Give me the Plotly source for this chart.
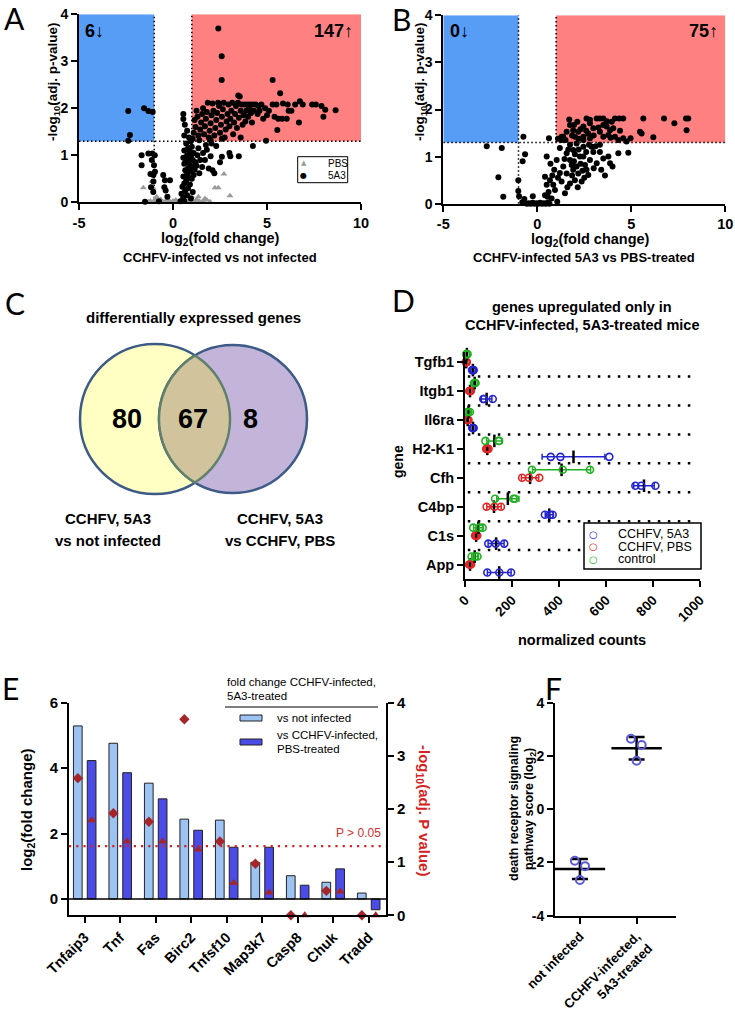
import numpy as np
import plotly.graph_objects as go

# ---------------- DATA ----------------
# Panel A: volcano, CCHFV-infected vs not infected  (log2 FC, -log10 adj p)
a_5a3 = [(-2.38,1.94),(-2.29,1.43),(-2.38,1.31),(-1.54,2.0),(-1.31,1.94),(-1.08,1.92),
 (-1.67,1.0),(-1.67,0.79),(-1.31,1.04),(-1.1,1.04),(-0.97,1.0),(-1.13,0.9),(-1.01,0.79),(-0.96,0.65),
 (-1.04,0.58),(-1.04,0.44),(-1.17,0.32),(-0.52,0.58),(-0.43,0.47),(-0.16,0.47),(-0.46,0.32),(-0.39,0.25),
 (-1.49,0.01),(-1.2,0.6),(-1.05,0.22),(-0.3,0.12),(-0.75,0.02),
 (0.55,1.88),(0.55,1.77),(0.63,1.65),(0.75,1.52),(0.6,1.42),(0.85,1.38),(0.95,1.3),(0.7,1.25),(1.0,1.18),
 (0.8,1.15),(0.6,1.1),(0.9,1.08),(1.1,1.05),(0.75,1.0),(0.95,0.98),(0.55,0.95),(0.85,0.92),(1.05,0.9),
 (0.7,0.88),(1.2,0.85),(0.6,0.82),(0.9,0.8),(1.0,0.76),(0.8,0.72),(1.15,0.7),(0.65,0.68),(0.95,0.65),
 (0.75,0.6),(1.1,0.58),(0.55,0.55),(0.85,0.52),(1.0,0.5),(0.7,0.46),(0.6,0.4),(0.9,0.38),(0.5,0.33),
 (0.8,0.3),(0.65,0.25),(1.05,0.22),(0.45,0.18),(0.75,0.15),(0.55,0.1),(0.95,0.08),(0.6,0.03),(0.4,0.02),
 (1.3,1.0),(1.25,0.78),(1.4,0.62),(1.35,1.15),(1.45,0.9),
 (1.6,1.05),(1.7,0.9),(1.8,1.12),(1.9,0.72),(2.0,0.98),(2.1,0.68),(2.2,0.62),(2.5,0.85),(2.6,0.97),
 (3.0,1.05),(3.05,0.98),(3.5,0.98),(2.05,1.25),(1.75,1.22),(2.3,1.2),(1.55,0.75),(4.25,1.2),(4.95,1.31),
 (1.05,1.35),(1.1,1.48),(1.2,1.6),(1.15,1.75),(1.3,1.82),(1.25,1.95),(1.35,1.42),(1.45,1.55),(1.5,1.7),
 (1.55,1.88),(1.6,2.0),(1.65,1.45),(1.7,1.62),(1.75,1.78),(1.8,1.92),(1.85,2.12),(1.9,1.38),(1.95,1.52),
 (2.0,1.68),(2.05,1.85),(2.1,2.1),(2.15,1.95),(2.2,1.42),(2.25,1.58),(2.3,1.75),(2.35,1.9),(2.4,2.12),
 (2.45,2.05),(2.5,1.48),(2.55,1.65),(2.6,1.82),(2.65,1.98),(2.7,2.12),(2.75,1.38),(2.8,1.55),(2.85,1.72),
 (2.9,1.88),(2.95,2.08),(3.0,1.62),(3.05,1.78),(3.1,1.95),(3.15,2.12),(3.2,1.45),(3.25,1.7),(3.3,1.88),
 (3.35,2.05),(3.4,1.58),(3.45,2.12),(3.5,1.8),(3.55,2.25),(3.6,1.95),(3.65,2.08),(3.7,1.65),(3.75,1.85),
 (3.8,2.08),(3.85,1.72),(3.9,1.95),(3.95,2.08),(4.0,1.82),(4.05,2.0),(4.1,2.08),(4.15,1.9),(4.2,1.7),
 (4.25,2.08),(4.3,1.95),(4.4,2.08),(4.5,1.88),(4.55,2.05),(4.6,1.95),(4.7,2.08),(4.8,1.78),(4.9,2.0),
 (5.0,1.85),(2.0,1.32),(2.6,1.35),(3.6,1.38),(1.4,1.32),
 (5.3,2.08),(5.5,2.08),(5.85,2.1),(6.1,2.08),(6.3,1.95),(6.5,2.08),(6.75,2.15),(6.9,2.08),(7.4,2.08),
 (7.6,2.08),(7.9,2.05),(8.1,1.97),(8.0,1.82),(8.65,1.96),(5.6,1.78),(5.8,1.78),(6.05,1.78),(6.7,1.7),
 (5.55,1.54),(5.4,1.82),(5.7,2.32),(5.3,2.6),(6.15,1.95),(5.1,1.95),
 (2.41,3.70),(2.59,3.11),(2.59,2.60),(3.47,2.27)]
a_pbs = [(-1.58,0.31),(-1.13,0.45),(-1.05,0.30),(-0.87,0.12),(0.67,0.19),(0.99,0.13),(1.35,0.12),
 (1.7,0.08),(2.23,0.31),(2.41,0.31),(2.71,0.6),(3.03,0.14),(1.8,0.05),(1.97,0.01),(-1.2,0.03),
 (-1.5,0.0),(-1.3,0.01),(-1.0,0.02),(-0.9,0.0),(-0.8,0.03),(-0.7,0.01),(-0.6,0.02),(-0.5,0.0),
 (-0.4,0.03),(-0.3,0.01),(-0.2,0.02),(-0.1,0.0),(0.0,0.03),(0.1,0.01),(0.2,0.02),(0.3,0.0),(0.4,0.03),
 (0.5,0.01),(0.6,0.02),(0.7,0.0),(0.8,0.03),(0.9,0.01),(1.0,0.02),(1.1,0.0),(1.2,0.03),(1.3,0.01),
 (1.4,0.02),(1.5,0.0),(1.6,0.02),(-0.95,0.07),(-0.65,0.06),(0.45,0.07),(0.15,0.05),(-0.25,0.06),
 (1.25,0.06),(0.85,0.05)]
a_counts = ["6↓", "147↑"]

# Panel B: volcano, CCHFV-infected 5A3 vs PBS-treated
b_5a3 = [(-2.69,1.22),(-1.89,1.18),(-2.07,0.56),(-1.81,0.15),(-0.74,1.42),(-0.65,1.05),(-0.78,0.9),
 (-1.01,0.5),(-1.01,0.27),(-0.97,0.16),(-0.69,0.1),(-0.24,0.16),
 (-0.55,0.0),(-0.45,0.01),(-0.35,0.0),(-0.25,0.02),(-0.15,0.0),(-0.05,0.01),(0.05,0.0),(0.15,0.02),
 (0.25,0.0),(0.35,0.01),(0.45,0.0),(0.55,0.02),(0.65,0.0),(-0.8,0.03),(0.62,1.39),
 (0.5,1.0),(0.41,0.57),(0.5,0.40),(0.41,0.18),(0.76,0.11),(1.06,0.04),(0.94,0.29),(0.67,0.5),(0.9,0.72),
 (1.03,0.93),(1.2,1.18),(1.29,1.35),(0.6,0.25),(0.8,0.6),(0.7,0.85),(1.1,0.55),(0.55,0.15),(0.85,0.4),
 (1.56,0.64),(1.74,0.93),(1.91,1.14),(1.56,1.07),(2.09,0.79),(2.27,1.0),(2.45,1.21),(2.0,0.5),(2.36,0.47),
 (1.74,0.43),(2.62,0.72),(2.8,0.93),(2.98,1.1),(3.16,0.86),(3.33,1.1),(3.51,0.96),(3.87,0.86),(3.78,1.0),
 (4.31,1.07),(4.84,1.08),(4.0,0.79),(1.38,0.79),(1.91,0.72),(2.18,0.64),(1.83,0.82),(2.54,0.82),(2.71,0.61),
 (1.74,1.25),(2.09,1.28),(2.89,1.21),(3.33,1.25),(2.45,1.0),(1.29,0.47),(1.47,0.22),(1.45,0.95),(1.65,1.15),
 (2.0,1.05),(2.2,1.15),(2.6,1.1),(2.3,0.85),(1.95,0.9),(2.5,0.55),(3.0,0.75),(3.6,0.6),(3.4,0.72),
 (2.15,0.35),(1.6,0.35),(1.85,0.6),(2.75,1.25),(3.1,1.22),(2.4,0.7),(1.2,0.65),
 (1.29,1.42),(1.56,1.53),(1.74,1.67),(1.7,1.79),(1.91,1.56),(2.18,1.53),(2.0,1.42),(2.45,1.64),(2.62,1.81),
 (2.8,1.71),(2.98,1.6),(3.16,1.81),(3.33,1.81),(3.51,1.67),(3.69,1.64),(3.87,1.56),(4.04,1.6),(4.13,1.81),
 (4.36,1.81),(4.57,1.81),(3.78,1.46),(4.13,1.42),(4.57,1.39),(4.75,1.32),(4.96,1.39),(5.46,1.53),(5.55,1.49),
 (5.64,1.81),(6.17,1.41),(6.74,1.81),(7.29,1.71),(7.91,1.81),(8.03,1.81),(7.94,1.56),(2.45,1.42),(2.71,1.49),
 (3.33,1.53),(2.8,1.39),(3.51,1.42),(1.38,1.42),(4.31,1.35),(2.45,1.35),(2.8,1.78),(2.13,1.74),(1.95,1.67),
 (3.51,1.81),(3.96,1.74),(3.0,1.45),(3.25,1.62),(2.3,1.58),(1.1,1.38),(1.5,1.35),(3.9,1.4),(4.4,1.55),
 (2.6,1.55),(3.7,1.75),(1.85,1.45),(2.2,1.38)]
b_counts = ["0↓", "75↑"]
fc_cut = 1.0
p_cut = 1.3
vol_xticks = [-5, 0, 5, 10]
vol_yticks = [0, 1, 2, 3, 4]

# Panel C: Venn counts
venn_counts = {"left": 80, "both": 67, "right": 8}

# Panel D: normalized counts, 3 mice per group
d_genes = ["Tgfb1", "Itgb1", "Il6ra", "H2-K1", "Cfh", "C4bp", "C1s", "App"]
d_5a3 = [[30, 34, 37], [78, 80, 118], [31, 34, 37], [365, 406, 614],
         [725, 750, 810], [340, 362, 373], [99, 131, 167], [95, 146, 196]]
d_pbs = [[3, 5, 8], [18, 21, 25], [8, 11, 15], [90, 95, 100],
         [243, 272, 316], [92, 125, 153], [43, 47, 52], [17, 21, 26]]
d_control = [[5, 8, 11], [38, 41, 45], [9, 14, 21], [87, 143, 145],
             [285, 416, 532], [128, 206, 213], [35, 61, 75], [28, 43, 53]]
d_ticks = [0, 200, 400, 600, 800, 1000]

# Panel E
e_genes = ["Tnfaip3", "Tnf", "Fas", "Birc2", "Tnfsf10", "Map3k7", "Casp8", "Chuk", "Tradd"]
e_fc_not_inf = [5.29, 4.76, 3.54, 2.44, 2.41, 1.12, 0.71, 0.51, 0.18]
e_fc_pbs = [4.23, 3.86, 3.06, 2.10, 1.58, 1.58, 0.42, 0.92, -0.33]
e_p_not_inf = [2.58, 1.92, 1.76, 3.69, 1.39, 0.97, 0.0, 0.46, 0.0]
e_p_pbs = [1.79, 1.39, 1.39, 1.24, 0.61, 0.43, 0.0, 0.45, 0.0]
e_p_threshold = 1.3
e_left_ticks = [0, 2, 4, 6]
e_right_ticks = [0, 1, 2, 3, 4]

# Panel F
f_groups = ["not infected", "CCHFV-infected,<br>5A3-treated"]
f_scores = [[-1.94, -2.14, -2.66], [2.64, 2.41, 1.82]]
f_ticks = [-4, -2, 0, 2, 4]

# ---------------- STYLE ----------------
W, H = 735, 1032
def X(p): return p / W
def Y(p): return 1 - p / H

FONT = "Liberation Sans"
LFONT = "Lato"

def tf(size=14, color="black"):
    return dict(family=FONT, size=size, color=color)

def B(v):
    return f"<b>{v}</b>"

def ax(**kw):
    base = dict(showline=True, linecolor="black", linewidth=2, ticks="outside", ticklen=6,
                tickwidth=2, tickcolor="black", showgrid=False, zeroline=False,
                tickfont=tf(14), fixedrange=True, automargin=False)
    base.update(kw)
    return base

anns = []
def txt(text, x, y, size=14, color="black", bold=True, angle=0, xanchor="center",
        yanchor="middle", family=FONT):
    anns.append(dict(text=(B(text) if bold else text), x=X(x), y=Y(y), xref="paper", yref="paper",
                     showarrow=False, textangle=angle, xanchor=xanchor, yanchor=yanchor,
                     font=dict(family=family, size=size, color=color)))

shapes = []
fig = go.Figure()

# ---------------- A & B volcanoes ----------------
BLUE_REG, RED_REG = "#579DF6", "#FF8080"
DOTS = dict(color="black", width=1.5, dash="1.5px,2.5px")
for xa, ya in [("x", "y"), ("x2", "y2")]:
    shapes += [
        dict(type="rect", xref=xa, yref=ya, x0=-5, x1=-fc_cut, y0=p_cut, y1=4,
             fillcolor=BLUE_REG, line=dict(width=0), layer="below"),
        dict(type="rect", xref=xa, yref=ya, x0=fc_cut, x1=10, y0=p_cut, y1=4,
             fillcolor=RED_REG, line=dict(width=0), layer="below"),
        dict(type="line", xref=xa, yref=ya, x0=-fc_cut, x1=-fc_cut, y0=0, y1=4, line=DOTS, layer="below"),
        dict(type="line", xref=xa, yref=ya, x0=fc_cut, x1=fc_cut, y0=p_cut, y1=4, line=DOTS, layer="below"),
        dict(type="line", xref=xa, yref=ya, x0=-5, x1=10, y0=p_cut, y1=p_cut, line=DOTS, layer="below"),
    ]

fig.add_trace(go.Scatter(x=[p[0] for p in a_pbs], y=[p[1] for p in a_pbs], mode="markers",
                         marker=dict(symbol="triangle-up", size=6, color="#9A9A9A"),
                         xaxis="x", yaxis="y", cliponaxis=False, showlegend=False))
fig.add_trace(go.Scatter(x=[p[0] for p in a_5a3], y=[p[1] for p in a_5a3], mode="markers",
                         marker=dict(symbol="circle", size=6, color="black"),
                         xaxis="x", yaxis="y", cliponaxis=False, showlegend=False))
fig.add_trace(go.Scatter(x=[p[0] for p in b_5a3], y=[p[1] for p in b_5a3], mode="markers",
                         marker=dict(symbol="circle", size=6, color="black"),
                         xaxis="x2", yaxis="y2", cliponaxis=False, showlegend=False))

vol_x = dict(range=[-5, 10], tickvals=vol_xticks, ticktext=[B(v) for v in vol_xticks], tickfont=tf(14.5))
vol_y = dict(range=[0, 4], tickvals=vol_yticks, ticktext=[B(v) for v in vol_yticks], tickfont=tf(14))

# A texts
txt("A", 14, 18, size=30, bold=False, family=LFONT)
txt(a_counts[0], 94, 31, size=18)
txt(a_counts[1], 333, 31, size=18)
txt("-log<sub>10</sub>(adj. p-value)", 53, 82, size=13.5, angle=-90)
txt("log<sub>2</sub>(fold change)", 220, 239, size=14.5)
txt("CCHFV-infected vs not infected", 220, 257, size=13)
shapes.append(dict(type="rect", xref="paper", yref="paper", x0=X(297.7), x1=X(347.7),
                   y0=Y(182.7), y1=Y(156.7), line=dict(color="black", width=1),
                   fillcolor="white", layer="above"))
txt("▲", 303.5, 163.5, size=7, color="#9A9A9A", bold=False, family="DejaVu Sans")
txt("●", 303.5, 175.5, size=8, color="black", bold=False, family="DejaVu Sans")
txt("PBS", 326, 163.5, size=10, bold=False, xanchor="left")
txt("5A3", 326, 175.5, size=10, bold=False, xanchor="left")

# B texts
txt("B", 401, 19, size=30, bold=False, family=LFONT)
txt(b_counts[0], 459.5, 31, size=18)
txt(b_counts[1], 703, 31, size=18)
txt("-log<sub>10</sub>(adj. p-value)", 420, 82, size=13.5, angle=-90)
txt("log<sub>2</sub>(fold change)", 590, 240, size=14.5)
txt("CCHFV-infected 5A3 vs PBS-treated", 584, 257, size=13)

# ---------------- C Venn ----------------
L = (155.0, 419.0, 75.0)
R = (233.0, 419.0, 74.0)
VENN_LINE = "#3D5B86"
shapes.append(dict(type="circle", xref="paper", yref="paper",
                   x0=X(L[0]-L[2]), x1=X(L[0]+L[2]), y0=Y(L[1]+L[2]), y1=Y(L[1]-L[2]),
                   fillcolor="#FFFFC4", line=dict(color=VENN_LINE, width=2.5), layer="below"))
shapes.append(dict(type="circle", xref="paper", yref="paper",
                   x0=X(R[0]-R[2]), x1=X(R[0]+R[2]), y0=Y(R[1]+R[2]), y1=Y(R[1]-R[2]),
                   fillcolor="#C3B5D9", line=dict(color=VENN_LINE, width=2.5), layer="below"))
d = R[0] - L[0]
a = (L[2]**2 - R[2]**2 + d**2) / (2*d)
h = np.sqrt(L[2]**2 - a**2)
angL = np.arctan2(h, a)
angR = np.arctan2(h, a - d)
t1 = np.linspace(angL, -angL, 60)
t2 = np.linspace(2*np.pi - angR, angR, 60)
ptsx = list(L[0] + L[2]*np.cos(t1)) + list(R[0] + R[2]*np.cos(t2))
ptsy = list(L[1] - L[2]*np.sin(t1)) + list(R[1] - R[2]*np.sin(t2))
path = "M " + " L ".join(f"{X(px):.5f},{Y(py):.5f}" for px, py in zip(ptsx, ptsy)) + " Z"
shapes.append(dict(type="path", xref="paper", yref="paper", path=path,
                   fillcolor="#D1C49D", line=dict(color="#60806C", width=2.5), layer="below"))
txt("C", 15, 303, size=30, bold=False, family=LFONT)
txt("differentially expressed genes", 193, 317, size=15)
txt(str(venn_counts["left"]), 127, 419, size=27)
txt(str(venn_counts["both"]), 193, 419, size=27)
txt(str(venn_counts["right"]), 250, 419, size=27)
txt("CCHFV, 5A3", 108, 518, size=15)
txt("vs not infected", 108, 540, size=15)
txt("CCHFV, 5A3", 280, 518, size=15)
txt("vs CCHFV, PBS", 280, 540, size=15)

# ---------------- D ----------------
gene_pos = [len(d_genes) - i for i in range(len(d_genes))]
for p in gene_pos[1:]:
    shapes.append(dict(type="line", xref="x3", yref="y3", x0=12, x1=985, y0=p + 0.5, y1=p + 0.5,
                       line=dict(color="black", width=2.5, dash="2.5px,7.5px"), layer="below"))
d_groups = [(d_5a3, "#2424D0", -0.276), (d_pbs, "#E02424", 0.0), (d_control, "#22B022", 0.276)]
for vals, col, off in d_groups:
    xs, ys, mx, my, sd = [], [], [], [], []
    for i, v in enumerate(vals):
        xs += v
        ys += [gene_pos[i] + off] * len(v)
        mx.append(float(np.mean(v)))
        my.append(gene_pos[i] + off)
        sd.append(float(np.std(v, ddof=1)))
    fig.add_trace(go.Scatter(x=mx, y=my, mode="markers", xaxis="x3", yaxis="y3",
                             marker=dict(symbol="line-ns", size=9, color="black",
                                         line=dict(width=2.5, color="black")),
                             error_x=dict(type="data", array=sd, color=col, thickness=1.5, width=3),
                             cliponaxis=False, showlegend=False))
    fig.add_trace(go.Scatter(x=xs, y=ys, mode="markers", xaxis="x3", yaxis="y3",
                             marker=dict(symbol="circle-open", size=7, color=col,
                                         line=dict(width=1.6, color=col)),
                             cliponaxis=False, showlegend=False))
txt("D", 403, 300, size=30, bold=False, family=LFONT)
txt("genes upregulated only in", 582, 307, size=14.5)
txt("CCHFV-infected, 5A3-treated mice", 582, 325, size=14.5)
txt("gene", 398, 462, size=14, angle=-90)
txt("normalized counts", 582, 640, size=14.5)
shapes.append(dict(type="rect", xref="paper", yref="paper", x0=X(584), x1=X(701),
                   y0=Y(569), y1=Y(523), line=dict(color="black", width=1.5),
                   fillcolor="white", layer="above"))
for lab, col, yy in [("CCHFV, 5A3", "#2424D0", 534), ("CCHFV, PBS", "#E02424", 546.7),
                     ("control", "#22B022", 559.3)]:
    txt("○", 593, yy, size=10, color=col, bold=True, family="DejaVu Sans")
    txt(lab, 616, yy, size=12.5, bold=False, xanchor="left")

# ---------------- E ----------------
LIGHT, DARK, DRED = "#9DC3F2", "#4B4BE8", "#A5262A"
e_idx = np.arange(len(e_genes))
fig.add_trace(go.Bar(x=e_idx, y=e_fc_not_inf, width=0.245, offset=-0.315, xaxis="x4", yaxis="y4",
                     marker=dict(color=LIGHT, line=dict(color="#222", width=1)), showlegend=False))
fig.add_trace(go.Bar(x=e_idx, y=e_fc_pbs, width=0.245, offset=0.075, xaxis="x4", yaxis="y4",
                     marker=dict(color=DARK, line=dict(color="#222", width=1)), showlegend=False))
shapes.append(dict(type="line", xref="x4 domain", yref="y4", x0=0, x1=1, y0=0, y1=0,
                   line=dict(color="black", width=1.5)))
shapes.append(dict(type="line", xref="x4 domain", yref="y5", x0=0, x1=1, y0=e_p_threshold,
                   y1=e_p_threshold, line=dict(color="#D02828", width=2.2, dash="2.2px,5px")))
fig.add_trace(go.Scatter(x=e_idx - 0.19, y=e_p_not_inf, mode="markers", xaxis="x4", yaxis="y5",
                         marker=dict(symbol="diamond", size=8, color=DRED),
                         cliponaxis=False, showlegend=False))
fig.add_trace(go.Scatter(x=e_idx + 0.2, y=e_p_pbs, mode="markers", xaxis="x4", yaxis="y5",
                         marker=dict(symbol="triangle-up", size=8, color=DRED),
                         cliponaxis=False, showlegend=False))
txt("E", 10, 688, size=30, bold=False, family=LFONT)
txt("log<sub>2</sub>(fold change)", 27, 810, size=15, angle=-90)
txt("-log<sub>10</sub>(adj. P value)", 424, 810, size=15, angle=90, color="#D42222")
txt("P > 0.05", 358, 833, size=12, color="#D03030", bold=False)
txt("fold change CCHFV-infected,", 225, 682, size=11.5, bold=False, xanchor="left")
txt("5A3-treated", 225, 696, size=11.5, bold=False, xanchor="left")
shapes.append(dict(type="line", xref="paper", yref="paper", x0=X(225), x1=X(378),
                   y0=Y(707), y1=Y(707), line=dict(color="#555", width=1.5)))
shapes.append(dict(type="rect", xref="paper", yref="paper", x0=X(240), x1=X(262),
                   y0=Y(721), y1=Y(715), fillcolor=LIGHT, line=dict(color="#222", width=1)))
shapes.append(dict(type="rect", xref="paper", yref="paper", x0=X(240), x1=X(262),
                   y0=Y(745), y1=Y(739), fillcolor=DARK, line=dict(color="#222", width=1)))
txt("vs not infected", 275, 718, size=11.5, bold=False, xanchor="left")
txt("vs CCHFV-infected,", 275, 735, size=11.5, bold=False, xanchor="left")
txt("PBS-treated", 275, 749, size=11.5, bold=False, xanchor="left")

# ---------------- F ----------------
f_jit = [[-0.09, 0.09, 0.0], [-0.1, 0.09, 0.0]]
for g, vals in enumerate(f_scores):
    fig.add_trace(go.Scatter(x=[g], y=[float(np.mean(vals))], mode="markers", xaxis="x5", yaxis="y6",
                             marker=dict(symbol="line-ew", size=36, color="black",
                                         line=dict(width=2.5, color="black")),
                             error_y=dict(type="data", array=[float(np.std(vals, ddof=1))],
                                          color="black", thickness=2.5, width=8),
                             showlegend=False))
    fig.add_trace(go.Scatter(x=[g + j for j in f_jit[g]], y=vals, mode="markers",
                             xaxis="x5", yaxis="y6",
                             marker=dict(symbol="circle-open", size=8, color="#5B5BD6",
                                         line=dict(width=2, color="#5B5BD6")),
                             showlegend=False))
txt("F", 553, 688, size=30, bold=False, family=LFONT)
txt("death receptor signaling", 514, 809, size=12.5, angle=-90)
txt("pathway score (log<sub>2</sub>)", 530, 809, size=12.5, angle=-90)

# ---------------- LAYOUT ----------------
fig.update_layout(
    width=W, height=H, autosize=False, margin=dict(l=0, r=0, t=0, b=0, pad=0),
    paper_bgcolor="white", plot_bgcolor="rgba(0,0,0,0)",
    font=dict(family=FONT, color="black"),
    barmode="overlay", showlegend=False, hovermode=False,
    xaxis=ax(domain=[X(79), X(361)], anchor="y", **vol_x),
    yaxis=ax(domain=[Y(202.3), Y(14.3)], anchor="x", **vol_y),
    xaxis2=ax(domain=[X(443.3), X(725.3)], anchor="y2", **vol_x),
    yaxis2=ax(domain=[Y(203.7), Y(15.3)], anchor="x2", **vol_y),
    xaxis3=ax(domain=[X(465), X(700)], anchor="y3", range=[0, 1000], tickvals=d_ticks,
              ticktext=[B(v) for v in d_ticks], tickangle=-45, tickfont=tf(13.5)),
    yaxis3=ax(domain=[Y(579), Y(352)], anchor="x3", range=[0.5, 8.35], tickvals=gene_pos,
              ticktext=[B(g) for g in d_genes], tickfont=tf(14.5)),
    xaxis4=ax(domain=[X(69), X(386)], anchor="y4", range=[-0.44, 8.49], tickvals=list(e_idx),
              ticktext=[B(g) for g in e_genes], tickangle=-45, tickfont=tf(14.5)),
    yaxis4=ax(domain=[Y(915.3), Y(702.7)], anchor="x4", range=[-0.5, 6], tickvals=e_left_ticks,
              ticktext=[B(v) for v in e_left_ticks], tickfont=tf(15)),
    yaxis5=ax(domain=[Y(915.3), Y(702.7)], anchor="x4", overlaying="y4", side="right",
              range=[0, 4], tickvals=e_right_ticks, ticktext=[B(v) for v in e_right_ticks],
              tickfont=tf(15)),
    xaxis5=ax(domain=[X(555), X(675.7)], anchor="y6", range=[-0.44, 1.69], tickvals=[0, 1],
              ticktext=[B(g) for g in f_groups], tickangle=-45, tickfont=tf(13)),
    yaxis6=ax(domain=[Y(915.7), Y(702.6)], anchor="x5", range=[-4, 4], tickvals=f_ticks,
              ticktext=[B(v) for v in f_ticks], tickfont=tf(14)),
    shapes=shapes, annotations=anns,
)

fig.write_html("out.html", config={"displayModeBar": False},
               post_script="document.body.style.margin='0px';")
